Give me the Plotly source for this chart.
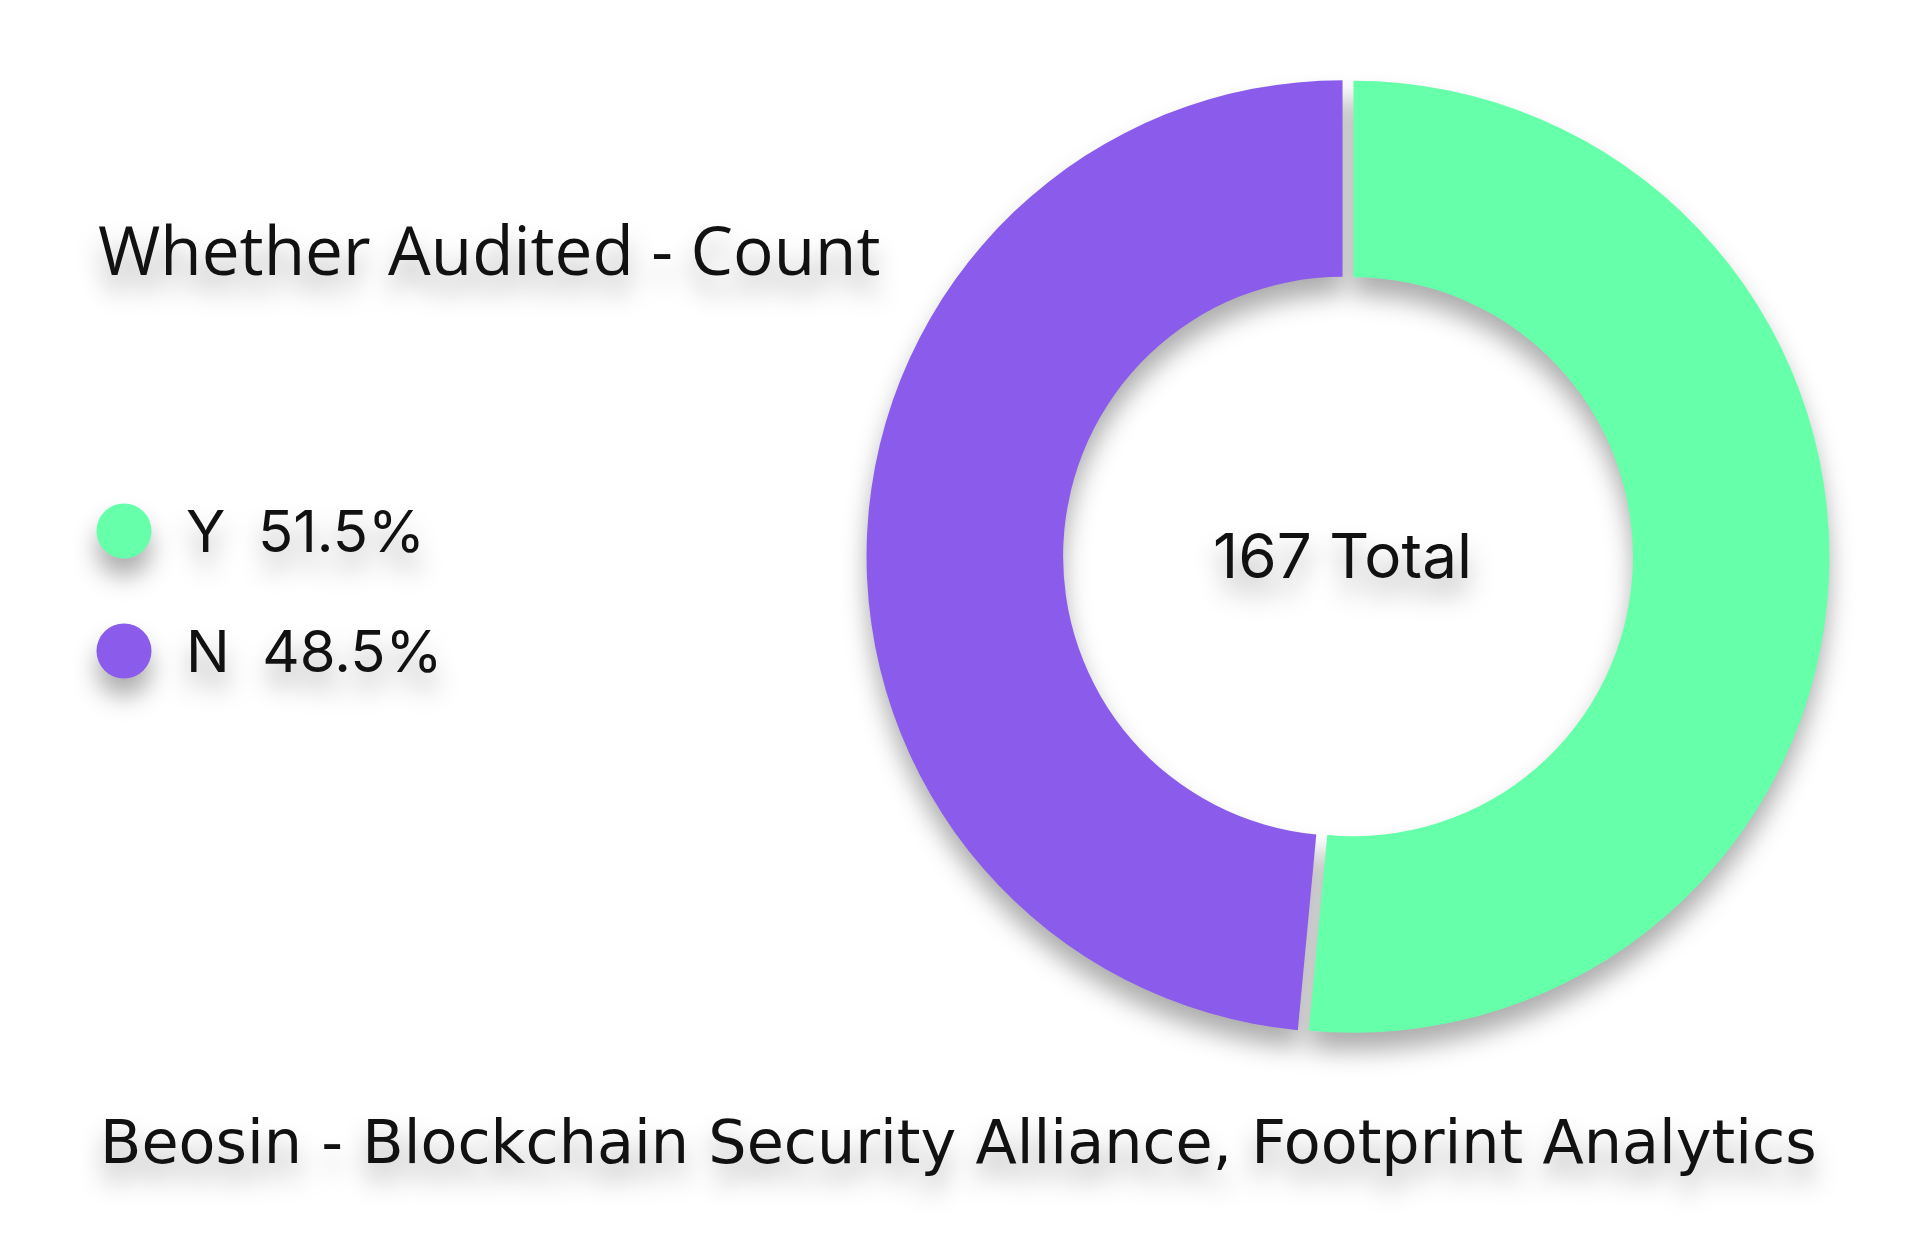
import plotly.graph_objects as go

labels = ["Y", "N"]
counts = [86, 81]
colors = ["#66FFAA", "#8B5CEB"]
title_text = "Whether Audited - Count"
source_text = "Beosin - Blockchain Security Alliance, Footprint Analytics"

W, H = 1920, 1241
total = sum(counts)

def px(x):
    return x / W

def py(y):
    return 1 - y / H

cx, cy, R = 1348, 556.5, 476.0
pull = 0.0115
half = R * (1 + pull)
fig = go.Figure()
fig.add_trace(go.Pie(
    labels=labels, values=counts, sort=False, direction="clockwise", rotation=0,
    hole=0.587, pull=[pull, pull], marker=dict(colors=colors, line=dict(width=0)),
    textinfo="none", hoverinfo="none", showlegend=False,
    domain=dict(x=[px(cx - half), px(cx + half)], y=[py(cy + half), py(cy - half)]),
))

ann = []
ann.append(dict(text=title_text, x=px(96), y=py(249), xanchor="left", yanchor="middle",
                font=dict(family="Open Sans", size=67.5, color="#111111")))
ann.append(dict(text=source_text, x=px(98), y=py(1142), xanchor="left", yanchor="middle",
                font=dict(family="DejaVu Sans", size=60.4, color="#111111")))
ann.append(dict(text=f"{total} Total", x=px(1342), y=py(555), xanchor="center", yanchor="middle",
                font=dict(family="Inter", size=62, color="#111111")))

shapes = []
leg_y = [531, 651]
for i, (lab, v, c) in enumerate(zip(labels, counts, colors)):
    yy = leg_y[i]
    shapes.append(dict(type="circle", xref="paper", yref="paper",
                       x0=px(124 - 27.5), x1=px(124 + 27.5), y0=py(yy + 27.5), y1=py(yy - 27.5),
                       fillcolor=c, line=dict(width=0)))
    pct = v / total * 100
    ann.append(dict(text=f"{lab}&nbsp;&nbsp;{pct:.1f}%", x=px(184), y=py(yy), xanchor="left", yanchor="middle",
                    font=dict(family="Inter", size=58, color="#111111")))

for a in ann:
    a.update(xref="paper", yref="paper", showarrow=False)

fig.update_layout(width=W, height=H, margin=dict(l=0, r=0, t=0, b=0),
                  paper_bgcolor="rgba(0,0,0,0)", plot_bgcolor="rgba(0,0,0,0)",
                  annotations=ann, shapes=shapes)

post = """
var s=document.createElement('style');
s.innerHTML='body{background:#ffffff;margin:0;} .main-svg{filter: drop-shadow(0px 18px 12px rgba(0,0,0,0.32));}';
document.head.appendChild(s);
"""
fig.write_html("out.html", post_script=post)
